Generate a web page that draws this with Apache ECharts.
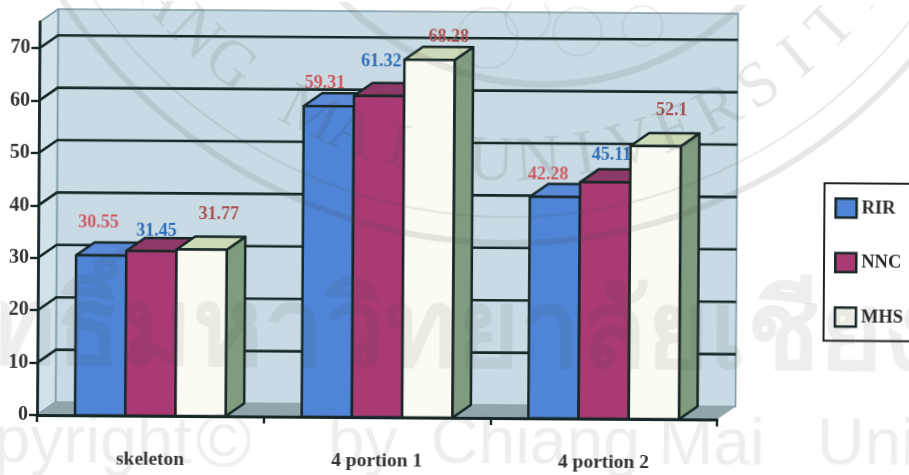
<!DOCTYPE html>
<html>
<head>
<meta charset="utf-8">
<style>
  html, body { margin: 0; background: #fff; overflow: hidden; }
  #chart { width: 909px; height: 475px; transform-origin: 37px 415px; transform: rotate(0.38deg); }
</style>
<script src="https://cdn.jsdelivr.net/npm/echarts@6/dist/echarts.min.js"></script>
</head>
<body>
<div id="chart"></div>
<script>
const categories = ['skeleton', '4 portion 1', '4 portion 2'];
const rir = [30.55, 59.31, 42.28];
const nnc = [31.45, 61.32, 45.11];
const mhs = [31.77, 68.28, 52.1];
const yTicks = [0, 10, 20, 30, 40, 50, 60, 70];
const yMax = 75;

// Hand-placed value labels, relative to the top of each bar's front face
const rirLabelShift = [[-3, -33], [-4, -23], [-7, -22]];
const nncLabelShift = [[5, -20], [2, -34], [6, -27]];
const mhsLabelShift = [[17, -35], [19, -23], [16, -36]];

const SERIF = '"Liberation Serif", serif';
const INK = '#172727';
const DEPTH_X = 18.5;
const DEPTH_Y = -13;
const BAR_SHARE = 0.2215;

const poly = (points, fill, lineWidth, stroke) => ({
  type: 'polygon',
  shape: { points },
  style: { fill, stroke: stroke || INK, lineWidth: lineWidth === undefined ? 2.5 : lineWidth, lineJoin: 'round' }
});

function wallItem(params, api) {
  const r = params.coordSys;
  const l = r.x, rt = r.x + r.width, t = r.y, b = r.y + r.height;
  const dx = DEPTH_X, dy = DEPTH_Y;
  return {
    type: 'group',
    children: [
      poly([[l + dx, t + dy], [rt + dx, t + dy], [rt + dx, b + dy], [l + dx, b + dy]], '#c8dbe5', 1.6, '#7e9aa3'),
      poly([[l, t], [l + dx, t + dy], [l + dx, b + dy], [l, b]], '#d2e2ea', 1.6, '#7e9aa3'),
      poly([[l, b], [l + dx, b + dy], [rt + dx, b + dy], [rt, b]], '#8fa6ab', 0)
    ]
  };
}

function gridItem(params, api) {
  const r = params.coordSys;
  const y = api.coord([0, api.value(1)])[1];
  const l = r.x, rt = r.x + r.width;
  return {
    type: 'polyline',
    shape: { points: [[l, y], [l + DEPTH_X, y + DEPTH_Y], [rt + DEPTH_X, y + DEPTH_Y]] },
    style: { fill: null, stroke: INK, lineWidth: 2.6 }
  };
}

function barSeries(name, values, order, front, top, side, labelColor, labelShift) {
  return {
    name,
    type: 'custom',
    z: 3 + order,
    itemStyle: { color: front },
    encode: { x: 0, y: 1 },
    data: values.map((v, i) => [i, v]),
    renderItem(params, api) {
      const i = api.value(0);
      const value = api.value(1);
      const mid = api.coord([i, value]);
      const base = api.coord([i, 0])[1];
      const w = api.size([1, 0])[0] * BAR_SHARE;
      const x0 = mid[0] + (order - 1.5) * w;
      const x1 = x0 + w;
      const yt = mid[1];
      const dx = DEPTH_X, dy = DEPTH_Y;
      const shift = labelShift[i];
      return {
        type: 'group',
        children: [
          poly([[x1, yt], [x1 + dx, yt + dy], [x1 + dx, base + dy], [x1, base]], side),
          poly([[x0, yt], [x0 + dx, yt + dy], [x1 + dx, yt + dy], [x1, yt]], top),
          poly([[x0, yt], [x1, yt], [x1, base], [x0, base]], front),
          {
            type: 'text',
            x: (x0 + x1) / 2 + shift[0],
            y: yt + shift[1],
            z2: 5,
            style: {
              text: String(values[i]),
              font: 'bold 18px ' + SERIF,
              fill: labelColor,
              align: 'center',
              verticalAlign: 'middle'
            }
          }
        ]
      };
    }
  };
}

// Pale university watermark lying over the whole plate
const SHADE = 'rgba(70,70,70,0.09)';
const SANS = '"Liberation Sans", sans-serif';
const SEAL_X = 505, SEAL_Y = -292;
const sealLetters = 'CHIANG MAI UNIVERSITY'.split('');
const sealText = sealLetters.map((ch, i) => {
  const deg = -38 + (i - 5) * 6;
  const a = deg * Math.PI / 180;
  return {
    type: 'text', z: 100, silent: true,
    x: SEAL_X + 452 * Math.sin(a),
    y: SEAL_Y + 452 * Math.cos(a),
    rotation: a,
    style: { text: ch, font: '64px ' + SERIF, fill: 'rgba(70,70,70,0.13)', align: 'center', verticalAlign: 'middle' }
  };
});
const ring = (cx, cy, r, lineWidth, alpha) => ({
  type: 'circle', z: 100, silent: true,
  shape: { cx, cy, r },
  style: { fill: null, stroke: 'rgba(70,70,70,' + alpha + ')', lineWidth }
});
const printed = (text, x, y, font, align) => ({
  type: 'text', z: 100, silent: true, x, y,
  style: { text, font, fill: SHADE, align: align || 'left', verticalAlign: 'middle' }
});
const COPY_FONT = '66px ' + SANS;
const watermark = [
  ring(SEAL_X, SEAL_Y, 532, 6, 0.13),
  ring(SEAL_X, SEAL_Y, 506, 2, 0.12),
  ring(540, -205, 286, 7, 0.12),
  ring(485, 35, 30, 2, 0.09),
  ring(525, 15, 22, 2, 0.09),
  ring(575, 28, 24, 2, 0.09),
  ring(640, 22, 20, 2, 0.09),
  ...sealText,
  printed('ลิขสิทธิ์มหาวิทยาลัยเชียงใหม่', 454, 332, 'bold 108px "Noto Sans", "DejaVu Sans", sans-serif', 'center'),
  printed('Copyright', 192, 444, COPY_FONT, 'right'),
  printed('©', 196, 444, '76px ' + SANS),
  printed('by', 328, 443, COPY_FONT),
  printed('Chiang Mai', 431, 442, COPY_FONT),
  printed('University', 817, 441, COPY_FONT)
];

const chart = echarts.init(document.getElementById('chart'), null, { renderer: 'canvas' });
chart.setOption({
  animation: false,
  backgroundColor: '#fff',
  grid: { left: 37, top: 22, width: 680, height: 393 },
  legend: {
    orient: 'vertical',
    left: 823,
    top: 178,
    data: ['RIR', 'NNC', 'MHS'],
    icon: 'rect',
    itemWidth: 21,
    itemHeight: 19,
    itemGap: 33,
    padding: [14, 30, 13, 10],
    backgroundColor: '#fff',
    borderColor: '#222',
    borderWidth: 2,
    itemStyle: { borderColor: INK, borderWidth: 2.5 },
    textStyle: { fontFamily: SERIF, fontWeight: 'bold', fontSize: 18.5, color: '#2a2a2a', padding: [3, 0, 0, 0] }
  },
  xAxis: {
    type: 'category',
    data: categories,
    axisLine: { lineStyle: { color: INK, width: 2.8 } },
    axisTick: { show: true, length: 7, lineStyle: { color: INK, width: 2.4 } },
    axisLabel: { margin: 34, fontFamily: SERIF, fontWeight: 'bold', fontSize: 19.5, color: '#333' },
    z: 10
  },
  yAxis: {
    type: 'value',
    min: 0,
    max: yMax,
    interval: 10,
    splitLine: { show: false },
    axisLine: { show: true, lineStyle: { color: INK, width: 2.8 } },
    axisTick: { show: true, length: 8, customValues: yTicks, lineStyle: { color: INK, width: 2.4 } },
    axisLabel: { margin: 9, customValues: yTicks, fontFamily: SERIF, fontWeight: 'bold', fontSize: 20, color: '#333' },
    z: 10
  },
  series: [
    { type: 'custom', z: 1, silent: true, encode: { x: 0, y: 1 }, data: [[0, yMax]], renderItem: wallItem },
    { type: 'custom', z: 2, silent: true, encode: { x: 0, y: 1 }, data: yTicks.slice(1).map(t => [0, t]), renderItem: gridItem },
    barSeries('RIR', rir, 0, '#4f84d6', '#5a89d8', '#3f6cb0', '#cd5a60', rirLabelShift),
    barSeries('NNC', nnc, 1, '#a93a74', '#8e3a68', '#7d2c58', '#2f6dba', nncLabelShift),
    barSeries('MHS', mhs, 2, '#fcfbf3', '#cbdab7', '#7f9c7e', '#a8504e', mhsLabelShift)
  ],
  graphic: watermark
});
</script>
</body>
</html>
